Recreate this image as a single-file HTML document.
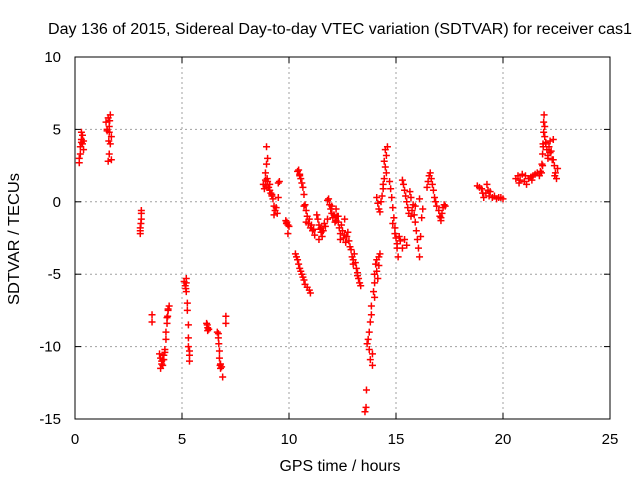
<!DOCTYPE html>
<html><head><meta charset="utf-8"><style>
body{margin:0;background:#fff}
svg{display:block;font-family:"Liberation Sans",sans-serif}
</style></head><body>
<svg id="chart" width="640" height="480" xmlns="http://www.w3.org/2000/svg">
<rect width="640" height="480" fill="#fff"/>
<text x="340" y="34" font-size="15.5" text-anchor="middle" textLength="584" lengthAdjust="spacingAndGlyphs">Day 136 of 2015, Sidereal Day-to-day VTEC variation (SDTVAR) for receiver cas1</text>
<text x="340" y="471" font-size="15.5" text-anchor="middle" textLength="121" lengthAdjust="spacingAndGlyphs">GPS time / hours</text>
<text transform="translate(19,239) rotate(-90)" font-size="15.5" text-anchor="middle" textLength="132" lengthAdjust="spacingAndGlyphs">SDTVAR / TECUs</text>
<g id="grid"></g><g id="ticks"></g><g id="marks"></g>
<rect x="75" y="57" width="535" height="362" fill="none" stroke="#000" stroke-width="1"/>
</svg>
<script>
const xTicks=[0,5,10,15,20,25];
const yTicks=[10,5,0,-5,-10,-15];
const times=[
0.2,0.2,0.25,0.3,0.3,0.35,0.4,0.35,0.3,0.25,0.4,
1.45,1.5,1.55,1.6,1.6,1.65,1.7,1.6,1.55,1.7,1.65,1.5,1.62,1.58,
3.05,3.05,3.05,3.1,3.1,3.1,3.08,
3.6,3.6,
3.95,4.0,4.05,4.1,4.1,4.15,4.2,4.25,4.25,4.3,4.3,4.35,4.4,4.35,4.0,4.05,4.15,4.2,4.33,
5.1,5.15,5.2,5.2,5.25,5.25,5.3,5.3,5.3,5.35,5.35,5.35,5.2,5.18,
6.15,6.2,6.25,6.2,6.18,
6.65,6.7,6.72,6.75,6.75,6.8,6.8,6.85,6.9,6.7,6.78,
7.05,7.05,
8.8,8.85,8.9,8.9,8.95,9.0,8.95,9.0,9.05,9.1,9.1,9.2,9.25,9.3,9.35,9.3,9.4,9.45,9.5,9.55,9.5,8.92,8.98,9.15,9.2,
9.85,9.9,9.95,10.0,9.95,9.88,
10.4,10.45,10.5,10.55,10.6,10.5,10.65,10.7,10.75,10.8,10.85,10.7,10.9,11.0,11.1,11.2,11.05,10.95,10.8,11.15,
10.3,10.35,10.4,10.45,10.5,10.55,10.6,10.65,10.7,10.75,10.85,10.95,11.0,
11.3,11.35,11.4,11.45,11.5,11.55,11.6,11.7,11.8,11.4,11.5,11.65,
11.8,11.85,11.9,11.95,12.0,12.05,12.1,12.2,12.3,12.0,12.15,
12.2,12.25,12.3,12.35,12.4,12.45,12.5,12.55,12.6,12.65,12.7,12.75,12.8,12.85,12.4,12.6,
12.9,12.95,13.0,13.05,13.1,13.15,13.2,13.25,13.3,13.35,13.0,13.2,
13.55,13.6,13.62,13.65,13.7,13.75,13.8,13.85,13.85,13.95,14.0,14.0,14.05,14.1,14.2,14.25,13.9,13.8,13.9,13.75,14.0,14.1,14.15,14.2,
14.1,14.15,14.2,14.25,14.3,14.35,14.4,14.45,14.5,14.55,14.6,14.5,14.45,14.4,14.55,
14.7,14.75,14.8,14.85,14.9,14.95,15.0,15.05,15.1,14.85,14.95,15.05,15.15,15.2,15.3,15.4,15.5,
15.3,15.35,15.4,15.45,15.5,15.55,15.6,15.7,15.75,15.65,15.7,15.8,15.85,15.9,15.95,16.0,16.05,16.1,16.15,16.2,16.25,15.9,16.1,
16.45,16.5,16.55,16.6,16.65,16.7,16.75,16.8,16.85,16.9,17.0,17.05,17.1,17.15,17.2,17.25,17.3,17.1,
18.8,18.9,19.0,19.05,19.1,19.2,19.3,19.35,19.4,19.5,19.6,19.7,19.8,19.9,20.0,19.25,
20.6,20.7,20.8,20.9,21.0,21.1,21.2,21.3,21.4,21.5,21.6,21.7,21.75,20.75,21.05,21.35,
21.8,21.82,21.85,21.87,21.9,21.9,21.92,21.95,21.85,21.88,
21.95,22.0,22.05,22.1,22.15,22.2,22.25,22.3,22.35,22.0,22.1,22.2,
22.35,22.4,22.45,22.5,22.55,22.42
];
const values=[
3.0,2.7,3.3,4.1,4.3,4.0,3.6,4.6,4.8,3.8,4.2,
5.5,5.0,5.8,5.2,4.8,6.0,4.5,3.3,2.8,2.9,4.0,4.9,5.6,4.2,
-1.8,-2.2,-2.0,-1.2,-0.8,-0.6,-1.5,
-7.8,-8.3,
-10.5,-10.8,-11.0,-11.3,-10.9,-10.6,-10.2,-9.5,-9.0,-8.4,-8.0,-7.4,-7.2,-7.5,-11.5,-11.2,-10.9,-10.4,-7.9,
-5.5,-5.8,-5.6,-6.2,-7.0,-7.5,-8.5,-9.4,-10.0,-10.3,-10.6,-11.0,-5.3,-6.0,
-8.4,-8.7,-8.8,-8.9,-8.5,
-9.0,-9.4,-9.8,-10.3,-10.8,-11.2,-11.5,-11.4,-12.1,-9.1,-11.3,
-7.9,-8.4,
1.2,0.9,1.5,2.0,2.6,3.0,3.8,1.4,1.0,0.8,1.2,0.5,0.2,-0.3,-0.6,-0.9,-0.4,-0.8,1.3,1.4,0.3,1.1,1.6,0.6,0.4,
-1.3,-1.4,-1.6,-1.7,-2.2,-1.5,
2.1,2.2,1.9,1.6,1.3,1.8,1.0,0.5,-0.2,-0.6,-1.0,-0.3,-1.5,-1.8,-2.0,-2.3,-1.6,-1.2,-1.4,-1.9,
-3.6,-3.8,-4.0,-4.3,-4.6,-4.8,-5.0,-5.2,-5.4,-5.7,-5.9,-6.1,-6.3,
-0.9,-1.2,-1.6,-1.9,-2.1,-2.4,-2.0,-1.7,-1.2,-2.6,-1.8,-1.5,
0.1,0.2,-0.2,-0.5,-0.8,-1.1,-0.9,-1.3,-1.0,-0.3,-1.4,
-0.5,-1.0,-1.4,-1.8,-2.2,-1.6,-2.0,-2.5,-2.3,-2.8,-2.4,-2.1,-2.7,-3.1,-2.6,-1.2,
-3.3,-3.8,-4.3,-3.6,-4.2,-4.6,-4.9,-5.3,-5.6,-5.8,-4.0,-5.1,
-14.5,-14.2,-13.0,-9.8,-9.5,-9.0,-8.3,-7.8,-7.2,-6.2,-5.6,-5.0,-4.3,-4.0,-3.8,-3.6,-10.5,-10.9,-11.3,-10.2,-6.6,-4.8,-5.3,-4.4,
0.3,-0.1,-0.5,-0.7,0.0,0.4,0.9,1.6,2.4,3.2,3.8,3.6,2.8,1.2,2.0,
1.4,0.9,0.3,-0.4,-1.1,-1.8,-2.5,-3.2,-3.8,-1.5,-2.2,-2.9,-2.4,-2.7,-3.2,-2.6,-3.0,
1.5,1.2,0.8,0.4,0.0,-0.4,-0.8,-1.0,-0.6,0.7,0.3,-0.2,-0.9,-1.4,-2.0,-2.6,-3.2,-3.8,-2.4,-1.1,-0.5,-0.3,0.2,
1.0,1.4,1.8,2.0,1.6,1.2,0.8,0.3,0.0,-0.3,-0.6,-1.0,-1.3,-0.8,-0.4,-0.2,-0.3,-1.1,
1.1,1.0,0.9,0.6,0.3,0.6,0.8,0.4,0.7,0.3,0.4,0.2,0.3,0.3,0.2,1.2,
1.6,1.8,1.5,1.9,1.4,1.2,1.6,1.7,1.8,1.9,2.0,1.8,2.1,1.3,1.8,1.5,
2.0,2.6,3.3,4.0,4.8,5.5,6.0,5.2,2.5,3.8,
4.5,4.0,3.6,3.2,3.8,4.2,3.5,2.9,4.3,4.1,3.0,3.4,
2.9,2.5,2.0,1.6,2.3,1.8
];
const X0=75,X1=610,Y0=419,Y1=57;
function xs(t){return X0+(t-0)/(25-0)*(X1-X0);}
function ys(v){return Y0-(v-(-15))/(10-(-15))*(Y0-Y1);}
const NS="http://www.w3.org/2000/svg";
const grid=document.getElementById('grid'),ticks=document.getElementById('ticks'),marks=document.getElementById('marks');
function mk(tag,attrs,parent){const e=document.createElementNS(NS,tag);for(const k in attrs)e.setAttribute(k,attrs[k]);parent.appendChild(e);return e;}
xTicks.forEach(t=>{
  const x=xs(t);
  if(t>0&&t<25){const g=mk('line',{x1:x,x2:x,y1:Y1,y2:Y0,stroke:'#a0a0a0','stroke-dasharray':'2,3'},grid);
  
  }
  mk('line',{x1:x,x2:x,y1:Y0,y2:Y0-6,stroke:'#000'},ticks);
  mk('line',{x1:x,x2:x,y1:Y1,y2:Y1+6,stroke:'#000'},ticks);
  const l=mk('text',{x:x,y:444,'font-size':15,'text-anchor':'middle'},ticks);l.textContent=t;
  
  
});
yTicks.forEach(v=>{
  const y=ys(v);
  if(v>-15&&v<10){const g=mk('line',{x1:X0,x2:X1,y1:y,y2:y,stroke:'#a0a0a0','stroke-dasharray':'2,3'},grid);
  
  }
  mk('line',{x1:X0,x2:X0+6,y1:y,y2:y,stroke:'#000'},ticks);
  mk('line',{x1:X1,x2:X1-6,y1:y,y2:y,stroke:'#000'},ticks);
  const l=mk('text',{x:61,y:y+5,'font-size':15,'text-anchor':'end'},ticks);l.textContent=v;
  
  
});
times.forEach((t,i)=>{
  const x=xs(t),y=ys(values[i]);
  const p=mk('path',{d:`M${x-3.5},${y}H${x+3.5}M${x},${y-3.5}V${y+3.5}`,stroke:'#ff0000','stroke-width':1.5,fill:'none'},marks);
  
  
});
</script>
</body></html>
